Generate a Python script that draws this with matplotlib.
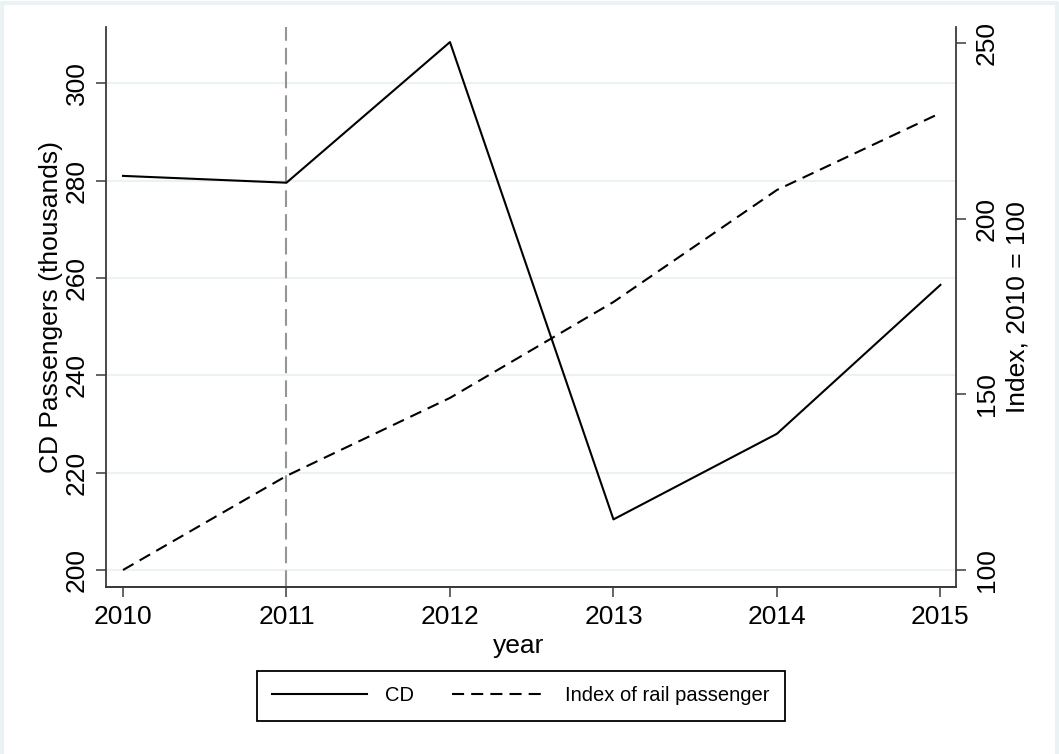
"""
CD passengers vs. rail passenger index, 2010-2015
"""
import matplotlib
matplotlib.use('Agg')
import matplotlib.pyplot as plt

plt.rcParams['font.family'] = ['Liberation Sans', 'DejaVu Sans']

# ========== data ==========
years = [2010, 2011, 2012, 2013, 2014, 2015]
cd_passengers = [281.0, 279.6, 308.5, 210.4, 228.0, 258.6]   # thousands
rail_index = [100.0, 126.8, 149.0, 176.3, 208.2, 230.1]       # 2010 = 100
event_year = 2011

left_ticks = [200, 220, 240, 260, 280, 300]
right_ticks = [100, 150, 200, 250]

AXIS_COL = '#3a3a3a'
GRID_COL = '#eaf2f3'

fig = plt.figure(figsize=(10.59, 7.54), dpi=100)
fig.patch.set_facecolor('white')
# thin light frame round the graph region (top / left / right)
fig.add_artist(plt.Line2D([0.002, 0.002, 0.998, 0.998], [0, 0.996, 0.996, 0],
                          transform=fig.transFigure, color=GRID_COL, lw=3, zorder=0))

ax = fig.add_axes([0.1001, 0.2219, 0.8026, 0.7423])
ax2 = ax.twinx()

# left axis: CD passengers
ln1, = ax.plot(years, cd_passengers, color='black', lw=1.5, label='CD', zorder=3)
ax.axvline(event_year, color='#959595', lw=1.5, linestyle=(0, (8, 3.4)), zorder=2)

# right axis: index
ln2, = ax2.plot(years, rail_index, color='black', lw=1.5,
                linestyle=(0, (5.8, 3.4)), label='Index of rail passenger')

ax.set_xlim(2009.896, 2015.095)
ax.set_ylim(196.57, 311.6)
ax2.set_ylim(95.25, 254.6)

ax.set_xticks(years)
ax.set_yticks(left_ticks)
ax2.set_yticks(right_ticks)

ax.yaxis.grid(True, color=GRID_COL, lw=1.5)
ax.set_axisbelow(True)

for a in (ax, ax2):
    a.spines['top'].set_visible(False)
    for s in ('left', 'right', 'bottom'):
        a.spines[s].set_color(AXIS_COL)
        a.spines[s].set_linewidth(1.3)
    a.tick_params(colors=AXIS_COL, labelcolor='black', length=7.5, width=1.1,
                  labelsize=19)
ax2.spines['left'].set_visible(False)
ax.spines['right'].set_visible(False)

ax.tick_params(axis='x', pad=6)
ax.tick_params(axis='y', pad=5)
ax2.tick_params(axis='y', pad=6)
for lbl in ax.get_yticklabels():
    lbl.set_rotation(90)
    lbl.set_va('center')
for lbl in ax2.get_yticklabels():
    lbl.set_rotation(90)
    lbl.set_va('center')

ax.set_xlabel('year', fontsize=19, labelpad=3)
ax.xaxis.label.set_x(0.485)
ax.set_ylabel('CD Passengers (thousands)', fontsize=19, labelpad=1)
ax2.set_ylabel('Index, 2010 = 100', fontsize=19, labelpad=5)

leg = fig.legend(handles=[ln1, ln2], loc='center', bbox_to_anchor=(0.492, 0.077),
                 ncol=2, fontsize=14.5, frameon=True, fancybox=False,
                 edgecolor='black', framealpha=1, handlelength=4.7,
                 handletextpad=0.9, columnspacing=1.9, borderpad=0.75)
leg.get_frame().set_linewidth(1.3)

fig.savefig('out.png', dpi=100, facecolor='white')
